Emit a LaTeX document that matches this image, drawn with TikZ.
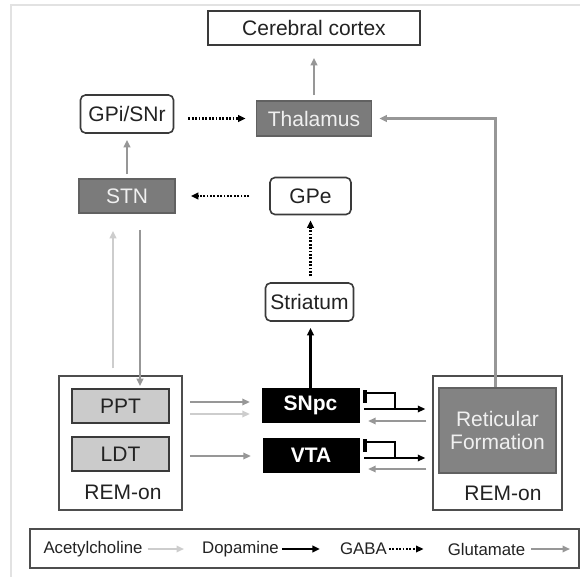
\documentclass[tikz,border=0pt]{standalone}
\usepackage{fontspec}
\setmainfont{Liberation Sans}
\usetikzlibrary{arrows.meta,calc}
\definecolor{glucol}{HTML}{979797}
\definecolor{achcol}{HTML}{CDCDCD}
\definecolor{boxgray}{HTML}{7B7B7B}
\definecolor{retgray}{HTML}{838383}
\definecolor{lightfill}{HTML}{CBCBCB}
\definecolor{edgecol}{HTML}{3A3A3A}
\definecolor{txtcol}{HTML}{222222}
\definecolor{framecol}{HTML}{E2E2E2}
\tikzset{
  tip/.style={-{Triangle[length=7.5pt,width=6.5pt]}},
  glu/.style={tip, draw=glucol, line width=2.8pt},
  ach/.style={tip, draw=achcol, line width=2.8pt},
  dopa/.style={tip, draw=black, line width=2.5pt},
  gaba/.style={tip, draw=black, line width=2.5pt, dash pattern=on 1.8pt off 1.6pt},
  base/.style={inner sep=0pt, font=\fontsize{21}{23}\selectfont, text=txtcol},
  whitebox/.style={base, draw=edgecol, line width=1.6pt, fill=white},
  roundbox/.style={whitebox, rounded corners=5pt},
  graybox/.style={base, draw=edgecol!80, line width=1.6pt, fill=boxgray, text=white!94!black},
  lightbox/.style={base, draw=edgecol, line width=1.6pt, fill=lightfill},
  blackbox/.style={base, draw=black, fill=black, text=white, font=\fontsize{21}{23}\selectfont\bfseries},
  groupbox/.style={draw=edgecol!90, line width=1.4pt, inner sep=0pt},
  legtext/.style={inner sep=0pt, font=\fontsize{16.8}{19}\selectfont, text=txtcol},
}
\begin{document}
\begin{tikzpicture}[x=1pt,y=-1pt]
\useasboundingbox[fill=white] (0,0) rectangle (580,577);
\draw[framecol, line width=1.4pt] (11,577) -- (11,5) -- (580,5);

% nodes
\node[whitebox, minimum width=212pt, minimum height=34pt] (cortex) at (314,28) {Cerebral cortex};
\node[graybox, minimum width=115pt, minimum height=35pt] (thal) at (314,118.5) {Thalamus};
\node[roundbox, minimum width=93pt, minimum height=38pt] (gpi) at (127,114) {GPi/SNr};
\node[graybox, minimum width=96pt, minimum height=34pt] (stn) at (127,196) {STN};
\node[roundbox, minimum width=81pt, minimum height=37pt] (gpe) at (310.5,196) {GPe};
\node[roundbox, minimum width=88pt, minimum height=38pt] (str) at (309.5,302) {Striatum};

\node[groupbox, minimum width=123pt, minimum height=134pt] (remL) at (120.5,443) {};
\node[lightbox, minimum width=97pt, minimum height=34pt] (ppt) at (120.5,406) {PPT};
\node[lightbox, minimum width=97pt, minimum height=34pt] (ldt) at (120.5,454) {LDT};
\node[base] (remLt) at (123,492) {REM-on};

\node[blackbox, minimum width=97pt, minimum height=34pt] (snpc) at (310.5,405) {SNpc};
\node[blackbox, minimum width=96pt, minimum height=34pt] (vta) at (311,455) {VTA};

\node[groupbox, minimum width=129pt, minimum height=134pt] (remR) at (497.5,443) {};
\node[graybox, fill=retgray, minimum width=117pt, minimum height=85pt, align=center,
      font=\fontsize{21}{22.5}\selectfont] (ret) at (497.5,430.5) {Reticular\\Formation};
\node[base] (remRt) at (503,493) {REM-on};

% connectors
\draw[glu, shorten <=5pt, shorten >=12pt] (thal) -- (cortex);
\draw[gaba, shorten <=14pt, shorten >=10pt] (gpi.east |- thal.west) -- (thal.west);
\draw[glu, shorten <=4pt, shorten >=6pt] (stn) -- (gpi);
\draw[gaba, shorten <=20pt, shorten >=15pt] (gpe.west) -- (stn.east);
\draw[gaba, shorten <=6pt, shorten >=5pt] (str.north -| gpe.south) -- (gpe.south);
\draw[dopa, shorten >=6pt] (snpc.north -| gpe.south) -- (str.south -| gpe.south);

\draw[ach, shorten <=7pt, shorten >=17pt] ([xshift=-14pt]stn.south |- remL.north) -- ([xshift=-14pt]stn.south);
\draw[glu, shorten <=16pt, shorten >=2pt] ([xshift=13pt]stn.south) -- ([xshift=13pt]stn.south |- ppt.north);

\draw[glu, shorten <=20pt, shorten >=12pt] ($(ppt.east)+(0,-4)$) -- ($(snpc.west |- ppt.east)+(0,-4)$);
\draw[ach, shorten <=20pt, shorten >=12pt] ($(ppt.east)+(0,8)$) -- ($(snpc.west |- ppt.east)+(0,8)$);
\draw[glu, shorten <=20pt, shorten >=12pt] ($(ldt.east)+(0,2)$) -- ($(vta.west |- ldt.east)+(0,2)$);

% SNpc <-> reticular formation
\draw[black, line width=3.6pt] ($(snpc.east)+(5.5,-15)$) -- ($(snpc.east)+(5.5,-2)$);
\draw[black, line width=2.4pt] ($(snpc.east)+(5,-12)$) -- ($(snpc.east)+(36,-12)$) -- ($(snpc.east)+(36,4)$);
\draw[dopa, shorten <=5pt, shorten >=7pt] ($(snpc.east)+(0,4)$) -- ($(remR.west |- snpc.east)+(0,4)$);
\draw[glu, shorten <=6pt, shorten >=9pt] ($(remR.west |- snpc.east)+(0,16)$) -- ($(snpc.east)+(0,16)$);
% VTA <-> reticular formation
\draw[black, line width=3.6pt] ($(vta.east)+(5.5,-16)$) -- ($(vta.east)+(5.5,-3)$);
\draw[black, line width=2.4pt] ($(vta.east)+(5,-13)$) -- ($(vta.east)+(36,-13)$) -- ($(vta.east)+(36,3)$);
\draw[dopa, shorten <=5pt, shorten >=7pt] ($(vta.east)+(0,3)$) -- ($(remR.west |- vta.east)+(0,3)$);
\draw[glu, shorten <=6pt, shorten >=9pt] ($(remR.west |- vta.east)+(0,14)$) -- ($(vta.east)+(0,14)$);

% reticular formation -> thalamus
\draw[glu, shorten >=7pt] ($(ret.north)+(-2,0)$) |- (thal.east);

% legend
\node[draw=edgecol!90, line width=1.4pt, minimum width=549pt, minimum height=39pt, inner sep=0pt] (legend) at (304.5,548.5) {};
\node[legtext] (lach) at (93,549) {Acetylcholine};
\node[legtext] (ldop) at (240.5,549) {Dopamine};
\node[legtext] (lgab) at (363.5,549) {GABA};
\node[legtext] (lglu) at (486.5,549) {Glutamate};
\coordinate (lend) at (570,549);
\draw[ach, line width=2.4pt, shorten <=5pt, shorten >=18pt] (lach.east) -- (ldop.west);
\draw[dopa, shorten <=3pt, shorten >=20pt] (ldop.east |- lach.east) -- (lgab.west |- lach.east);
\draw[gaba, shorten <=2pt, shorten >=24pt] (lgab.east |- lach.east) -- (lglu.west |- lach.east);
\draw[glu, line width=2.4pt, shorten <=6pt] (lglu.east |- lach.east) -- (lend);
\end{tikzpicture}
\end{document}
